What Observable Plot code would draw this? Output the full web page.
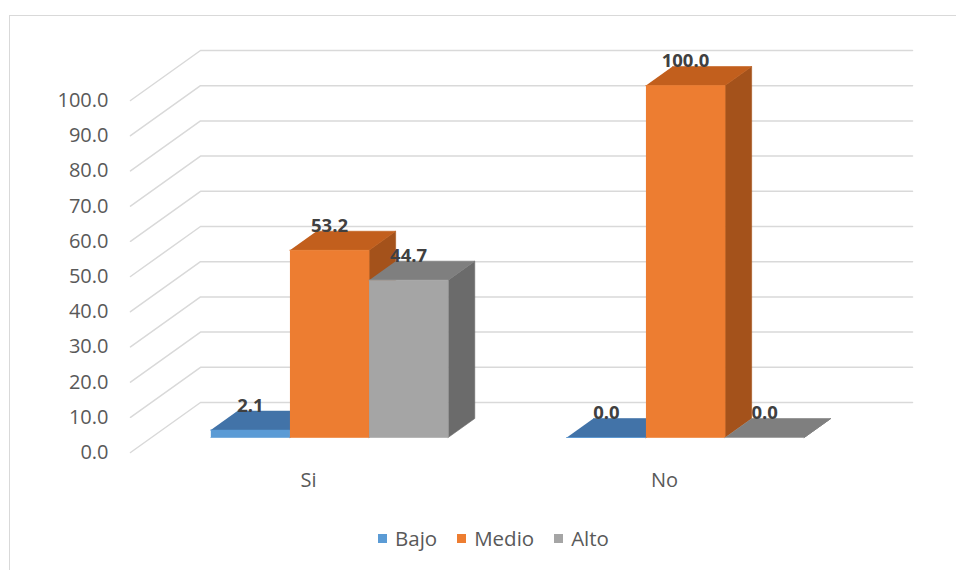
<!DOCTYPE html>
<html>
<head>
<meta charset="utf-8">
<script src="https://cdn.jsdelivr.net/npm/d3@7"></script>
<script src="https://cdn.jsdelivr.net/npm/@observablehq/plot@0.6"></script>
<style>
  html, body { margin: 0; padding: 0; background: #fff; }
  #wrap { position: relative; width: 956px; height: 570px; overflow: hidden; font-family: "Open Sans", sans-serif; }
  #frame { position: absolute; left: 9px; top: 15px; width: 960px; height: 560px;
           border-top: 1.5px solid #d9d9d9; border-left: 1.5px solid #d9d9d9; pointer-events: none; }
  #chart { position: absolute; left: 0; top: 0; }
  #legend { position: absolute; left: 378px; top: 510px; height: 56px;
            display: flex; align-items: center; gap: 20px;
            color: #595959; font-size: 20.5px; }
  .item { display: flex; align-items: center; gap: 8px; }
  .sw { width: 9px; height: 9px; display: inline-block; }
</style>
</head>
<body>
<div id="wrap">
  <div id="chart"></div>
  <div id="legend"></div>
  <div id="frame"></div>
</div>
<script>
// Categories and series
const categories = ["Si", "No"];
const series = ["Bajo", "Medio", "Alto"];
const bajo = [2.1, 0.0];
const medio = [53.2, 100.0];
const alto = [44.7, 0.0];
const yTicks = [0, 10, 20, 30, 40, 50, 60, 70, 80, 90, 100];

// Face shades per series: front, top, side
const shades = {
  Bajo:  {front: "#5b9bd5", top: "#4273a8", side: "#335f8c"},
  Medio: {front: "#ed7d31", top: "#c25f1d", side: "#a4521b"},
  Alto:  {front: "#a5a5a5", top: "#7f7f7f", side: "#6b6b6b"}
};

// Oblique depth: full depth shifts a point by these data units
const WX = 70 / 356;   // along x (category units)
const WY = 50 / 3.52;  // along y (value units)
const dFront = 0.3, dBack = 0.68;
const barW = 1 / 4.5, gap = (1 - 3 * barW) / 2;

const valuesBySeries = {Bajo: bajo, Medio: medio, Alto: alto};

const bars = [];
categories.forEach((c, ci) => {
  series.forEach((s, si) => {
    const x1 = ci + gap + si * barW;
    bars.push({category: c, series: s, value: valuesBySeries[s][ci], x1, x2: x1 + barW});
  });
});

const P = (x, y, d) => ({x: x + d * WX, y: y + d * WY});

// Polygon vertices for every visible face of each bar
const faces = [];
bars.forEach((b, i) => {
  const v = b.value, sh = shades[b.series];
  const polys = [
    ["side", [P(b.x2, 0, dFront), P(b.x2, 0, dBack), P(b.x2, v, dBack), P(b.x2, v, dFront)]],
    ["top", [P(b.x1, v, dFront), P(b.x2, v, dFront), P(b.x2, v, dBack), P(b.x1, v, dBack)]],
    ["front", [P(b.x1, 0, dFront), P(b.x2, 0, dFront), P(b.x2, v, dFront), P(b.x1, v, dFront)]]
  ];
  polys.forEach(([name, pts]) => {
    pts.forEach(p => faces.push({id: `${i}-${name}`, x: p.x, y: p.y, color: sh[name]}));
  });
});

// Gridlines: left wall diagonal then back wall horizontal
const grid = [];
yTicks.forEach(t => {
  grid.push({t, ...P(0, t, 0)});
  grid.push({t, ...P(0, t, 1)});
  grid.push({t, ...P(categories.length, t, 1)});
});

const chart = Plot.plot({
  width: 956,
  height: 510,
  marginLeft: 130,
  marginRight: 114,
  marginTop: 100,
  marginBottom: 58,
  x: {domain: [0, categories.length], axis: null},
  y: {domain: [0, 100], axis: null},
  color: {type: "identity"},
  style: {fontFamily: "'Open Sans', sans-serif", fontSize: "20px", color: "#595959", background: "transparent", overflow: "visible"},
  marks: [
    Plot.line(grid, {x: "x", y: "y", z: "t", stroke: "#d9d9d9", strokeWidth: 1.5}),
    Plot.axisY(yTicks, {tickSize: 0, tickPadding: 22, tickFormat: d => d.toFixed(1), label: null, fontSize: 20}),
    Plot.line(faces, {x: "x", y: "y", z: "id", fill: "color", stroke: "color", strokeWidth: 0.6}),
    Plot.text(categories, {x: (d, i) => i + 0.5, y: () => 0, text: d => d, dy: 28, fontSize: 20, fill: "#595959"}),
    Plot.text(bars, {
      x: d => (d.x1 + d.x2) / 2 + dFront * WX,
      y: d => d.value + dBack * WY,
      text: d => d.value.toFixed(1),
      dy: -5, fontSize: 18.5, fontWeight: "bold", fill: "#404040"
    })
  ]
});
document.getElementById("chart").appendChild(chart);

// Legend
const legend = document.getElementById("legend");
series.forEach(s => {
  const item = document.createElement("div");
  item.className = "item";
  const sw = document.createElement("span");
  sw.className = "sw";
  sw.style.background = shades[s].front;
  const label = document.createElement("span");
  label.textContent = s;
  item.append(sw, label);
  legend.appendChild(item);
});
</script>
</body>
</html>
